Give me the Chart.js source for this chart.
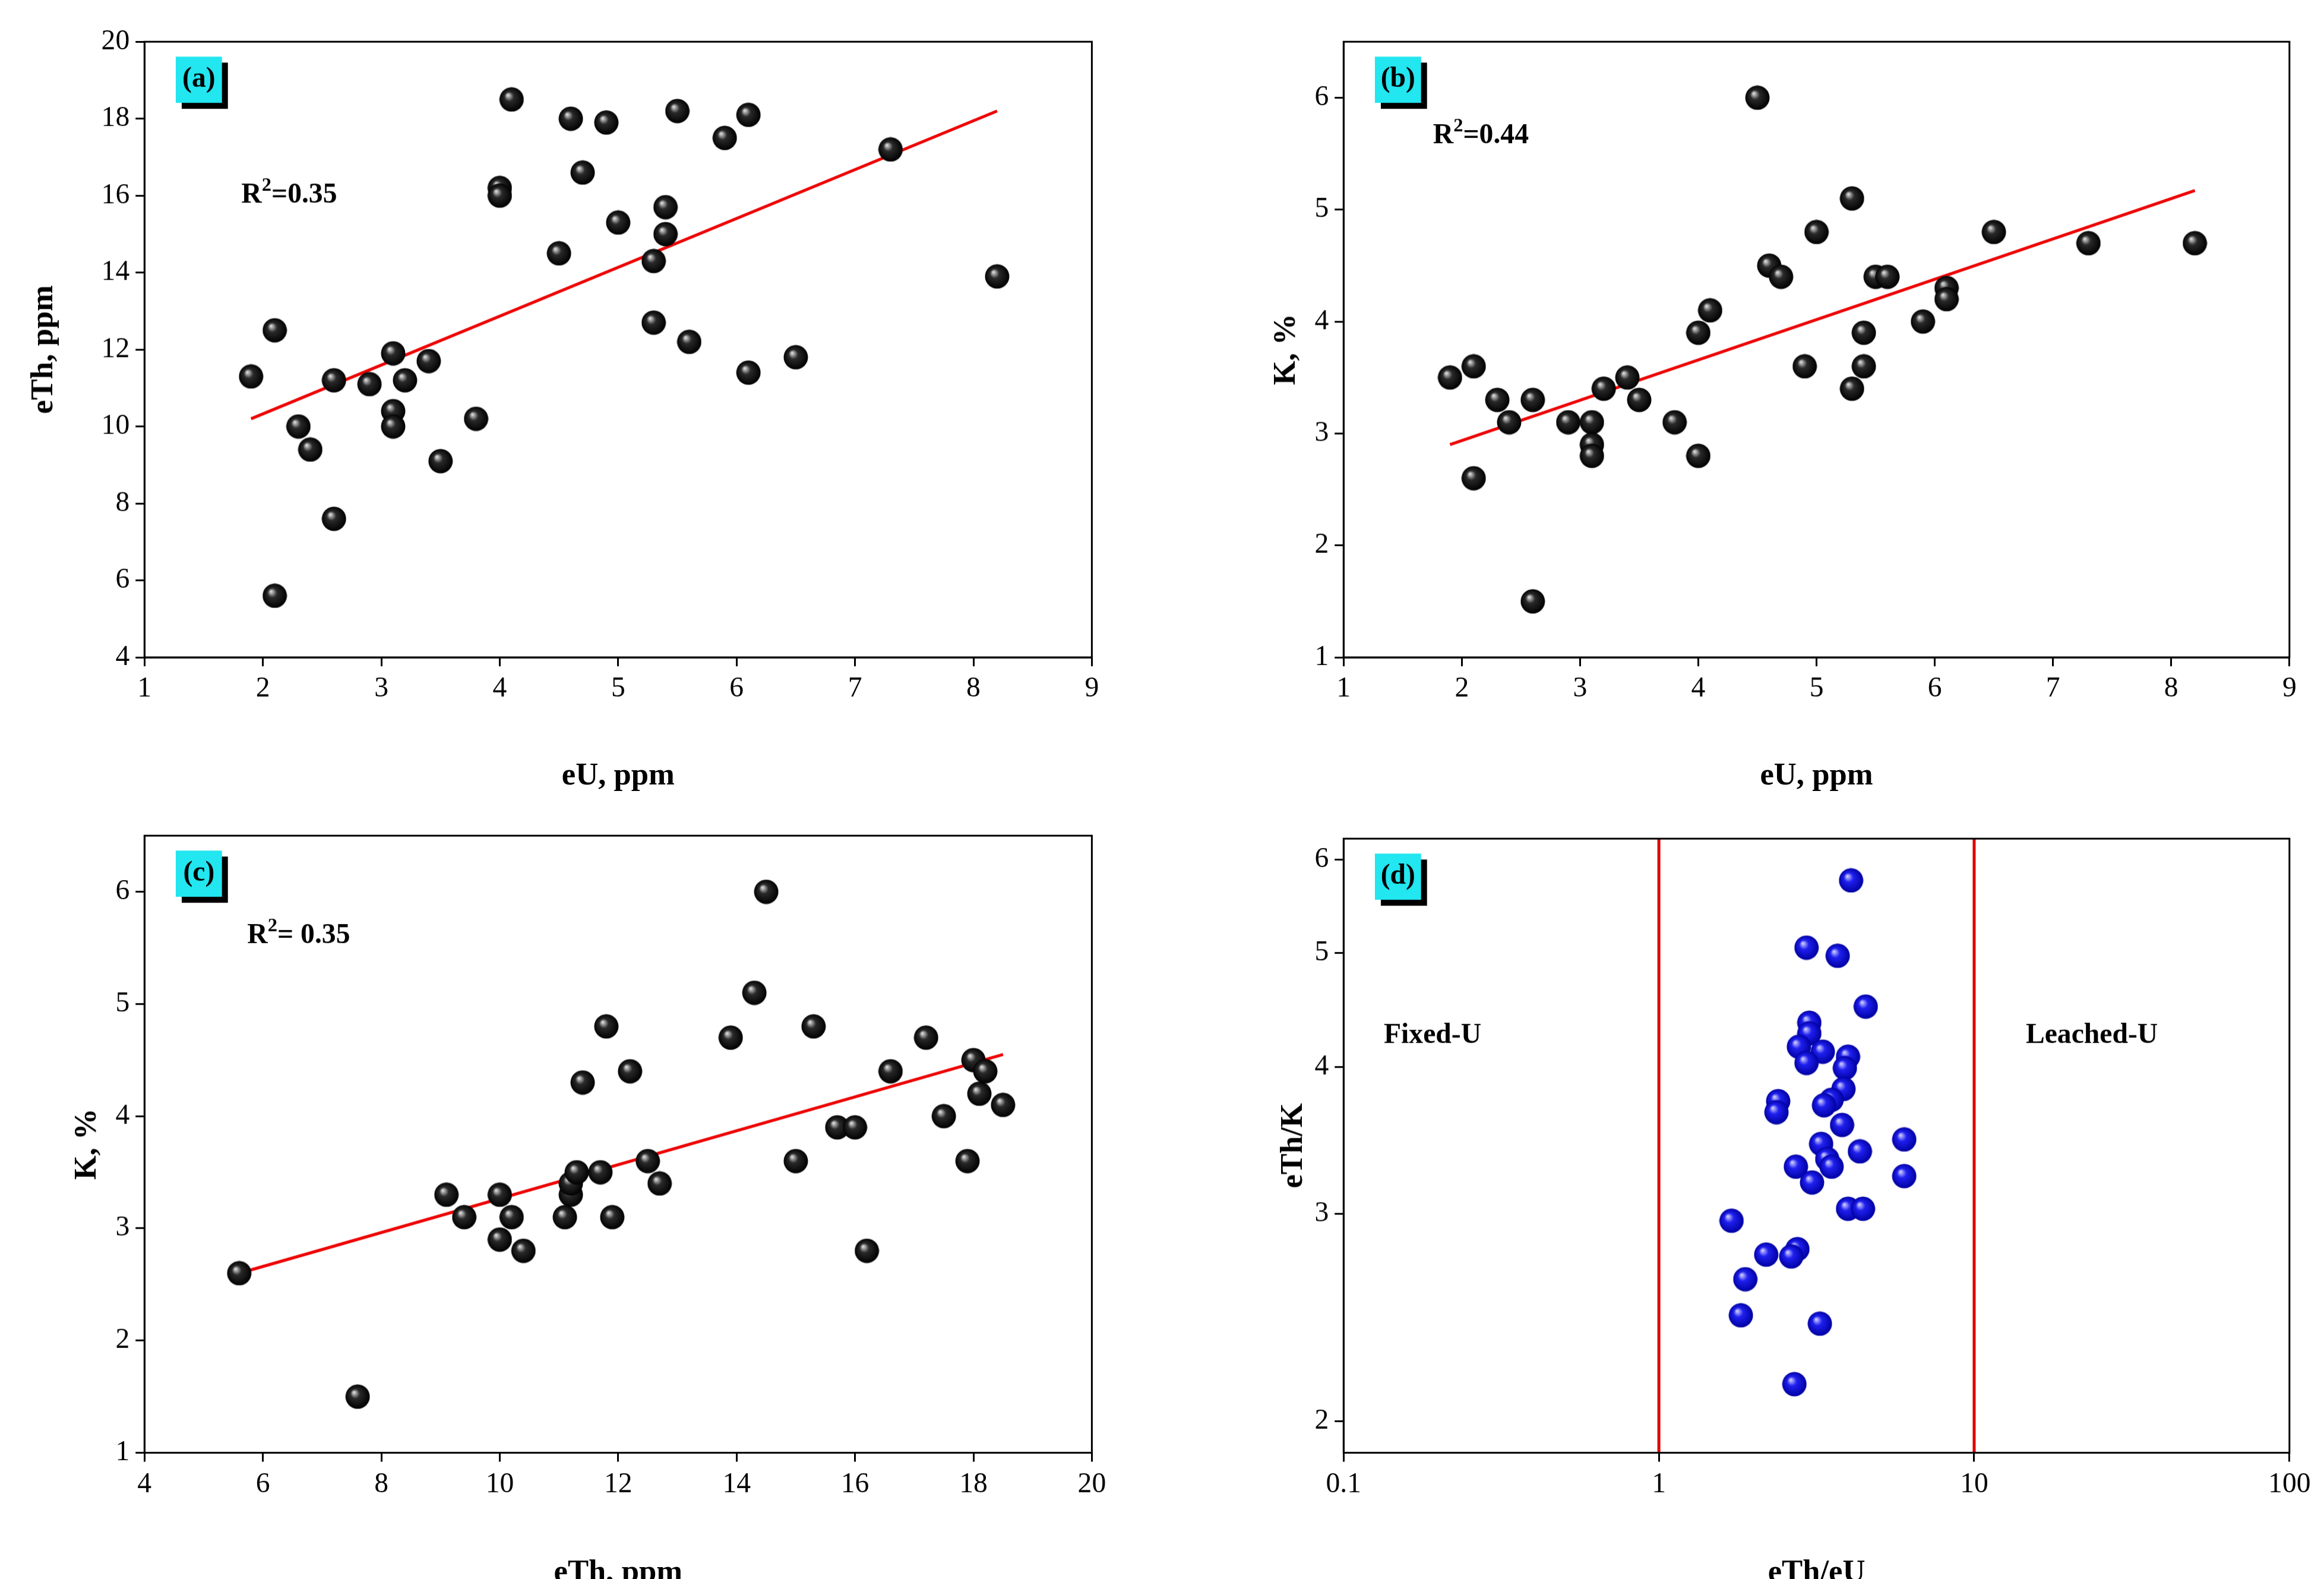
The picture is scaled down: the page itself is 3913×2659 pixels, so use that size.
<!DOCTYPE html>
<html>
<head>
<meta charset="utf-8">
<script src="https://cdn.jsdelivr.net/npm/chart.js@4"></script>
<style>
  body { margin:0; background:#fff; width:3913px; height:2659px; position:relative; overflow:hidden; }
  .box { position:absolute; }
</style>
</head>
<body>
<div class="box" style="left:0px;top:0px"><canvas id="ca"></canvas></div>
<div class="box" id="wb"><canvas id="cb"></canvas></div>
<div class="box" id="wc"><canvas id="cc"></canvas></div>
<div class="box" id="wd"><canvas id="cd"></canvas></div>
<script>
// ######### data
// ###########################################
const eU  = [1.9,2.1,2.1,2.3,2.4,2.6,2.6,2.9,3.1,3.1,3.1,3.2,3.4,3.5,3.8,4.0,4.0,4.1,4.5,4.6,4.7,4.9,5.0,5.3,5.3,5.4,5.4,5.5,5.6,5.9,6.1,6.1,6.5,7.3,8.2];
const eTh = [11.3,12.5,5.6,10.0,9.4,11.2,7.6,11.1,11.9,10.4,10.0,11.2,11.7,9.1,10.2,16.2,16.0,18.5,14.5,18.0,16.6,17.9,15.3,14.3,12.7,15.7,15.0,18.2,12.2,17.5,18.1,11.4,11.8,17.2,13.9];
const kB  = [3.5,3.6,2.6,3.3,3.1,3.3,1.5,3.1,3.1,2.9,2.8,3.4,3.5,3.3,3.1,3.9,2.8,4.1,6.0,4.5,4.4,3.6,4.8,5.1,3.4,3.9,3.6,4.4,4.4,4.0,4.3,4.2,4.8,4.7,4.7];
const eThC = [5.6,7.6,9.1,9.4,10.0,10.0,10.2,10.4,11.1,11.2,11.2,11.3,11.4,11.7,11.8,11.9,12.2,12.5,12.7,13.9,14.3,14.5,15.0,15.3,15.7,16.0,16.2,16.6,17.2,17.5,17.9,18.0,18.1,18.2,18.5];
const kC   = [2.6,1.5,3.3,3.1,3.3,2.9,3.1,2.8,3.1,3.3,3.4,3.5,4.3,3.5,4.8,3.1,4.4,3.6,3.4,4.7,5.1,6.0,3.6,4.8,3.9,3.9,2.8,4.4,4.7,4.0,3.6,4.5,4.2,4.4,4.1];
const ratioThU = [4.07,2.94,3.69,4.53,3.0,3.0,2.78,3.31,3.98,2.94,3.89,3.85,3.53,3.34,2.39,2.36,3.81,6.0,3.27,4.34,3.42,3.53,2.72,3.06,6.0,3.98,4.44,1.70,2.75,2.19,2.63,1.88,1.82,3.24,2.69];
const ratioThK = [5.76,5.05,4.97,4.50,4.36,4.27,4.16,4.12,4.08,4.03,3.99,3.83,3.75,3.71,3.74,3.66,3.57,3.47,3.44,3.39,3.34,3.29,3.29,3.19,3.23,3.03,3.03,2.96,2.80,2.77,2.76,2.64,2.46,2.42,2.15];
const fitA = [[1.9,10.2],[8.2,18.2]];
const fitB = [[1.9,2.9],[8.2,5.17]];
const fitC = [[5.6,2.6],[18.5,4.55]];
const ticksK = [1,2,3,4,5,6];
const ticksD_x = [0.1,1,10,100];
const ticksD_y = [2,3,4,5,6];
const dividers = [1,10];

const S = 2.508;
const FONT = "'Liberation Serif','Times New Roman',serif";

function sphere(c1, c2, c3) {
    const r = 21, cv = document.createElement('canvas');
    cv.width = cv.height = 2*r;
    const g = cv.getContext('2d');
    const gr = g.createRadialGradient(r*0.7, r*0.65, 1, r, r, r);
    gr.addColorStop(0, c1); gr.addColorStop(0.35, c2); gr.addColorStop(1, c3);
    g.fillStyle = gr; g.beginPath(); g.arc(r, r, r-0.5, 0, Math.PI*2); g.fill();
    return cv;
}
const blackBall = sphere('#d8d8d8', '#2a2a2a', '#000');
const blueBall  = sphere('#c8c8ff', '#2020f0', '#0000a0');

function pts(xs, ys) { return xs.map((x, i) => ({x: x, y: ys[i]})); }

// ######### decoration plugin
// ###########################################
const deco = {
    id: 'deco',
    afterDraw(chart, args, o) {
        const c = chart.ctx, a = chart.chartArea;
        c.save();
        c.strokeStyle = '#000'; c.lineWidth = 3;
        c.strokeRect(a.left, a.top, a.right - a.left, a.bottom - a.top);
        // tag box
        const bx = a.left + 21*S, by = a.top + 10*S, bs = 31*S;
        c.fillStyle = '#000'; c.fillRect(bx + 4*S, by + 4*S, bs, bs);
        c.fillStyle = '#22e6f0'; c.fillRect(bx, by, bs, bs);
        c.fillStyle = '#000'; c.font = 'bold ' + (19*S) + 'px ' + FONT;
        c.textAlign = 'center'; c.textBaseline = 'middle';
        c.fillText(o.tag, bx + bs/2, by + bs/2);
        c.textAlign = 'left'; c.textBaseline = 'alphabetic';
        if (o.r2) {
            let x = a.left + o.r2.x*S, y = a.top + o.r2.y*S;
            c.font = 'bold ' + (19*S) + 'px ' + FONT;
            c.fillText('R', x, y); x += c.measureText('R').width;
            c.font = 'bold ' + (13*S) + 'px ' + FONT;
            c.fillText('2', x, y - 8*S); x += c.measureText('2').width;
            c.font = 'bold ' + (19*S) + 'px ' + FONT;
            c.fillText(o.r2.text, x, y);
        }
        if (o.texts) {
            c.font = 'bold ' + (19*S) + 'px ' + FONT;
            o.texts.forEach(t => c.fillText(t.s, a.left + t.x*S, a.top + t.y*S));
        }
        c.restore();
    },
    beforeDatasetsDraw(chart, args, o) {
        if (!o.vlines) return;
        const c = chart.ctx, a = chart.chartArea, xs = chart.scales.x;
        c.save(); c.strokeStyle = '#e00000'; c.lineWidth = 2*S;
        o.vlines.forEach(v => {
            const px = xs.getPixelForValue(v);
            c.beginPath(); c.moveTo(px, a.top); c.lineTo(px, a.bottom); c.stroke();
        });
        c.restore();
    }
};

function axis(min, max, step, title, isY, w) {
    return {
        min: min, max: max,
        ticks: { stepSize: step, color: '#000', font: { family: FONT, size: 19*S }, padding: 4*S, maxRotation: 0 },
        grid: { drawOnChartArea: false, drawTicks: true, tickLength: 6*S, color: '#000', lineWidth: 3 },
        border: { color: '#000', width: 3 },
        title: { display: true, text: title, color: '#000', font: { family: FONT, size: 21*S, weight: 'bold' }, padding: isY ? 4*S : { top: 14*S } },
        afterFit(s) { if (isY) s.width = w*S; else s.height = w*S; }
    };
}

function fixedTicks(ax, list) {
    ax.afterBuildTicks = s => { s.ticks = list.map(v => ({ value: v })); };
    ax.ticks.callback = v => String(v);
    return ax;
}

function place(id, wrap, left, top, width, height) {
    const el = wrap ? document.getElementById(wrap) : null;
    if (el) { el.style.left = (left*S) + 'px'; el.style.top = (top*S) + 'px'; }
    const cv = document.getElementById(id);
    cv.parentNode.style.width = (width*S) + 'px';
    cv.parentNode.style.height = (height*S) + 'px';
    return cv;
}

function scatterChart(cv, data, fit, sx, sy, pad, plug) {
    return new Chart(cv, {
        type: 'scatter',
        data: { datasets: [
            { data: fit.map(p => ({x: p[0], y: p[1]})), showLine: true, borderColor: '#ee0000', borderWidth: 2*S, pointRadius: 0, order: 2 },
            { data: data, pointStyle: blackBall, order: 1 }
        ]},
        options: {
            responsive: true, maintainAspectRatio: false, animation: false,
            layout: { padding: pad },
            plugins: { legend: { display: false }, tooltip: { enabled: false }, deco: plug },
            scales: { x: sx, y: sy }
        },
        plugins: [deco]
    });
}

// panel (a)
const cvA = place('ca', null, 0, 0, 770, 535);
scatterChart(cvA, pts(eU, eTh), fitA,
    axis(1, 9, 1, 'eU, ppm', false, 94), axis(4, 20, 2, 'eTh, ppm', true, 84),
    { top: 28*S, right: 37*S, left: 13*S }, { tag: '(a)', r2: { x: 65, y: 108, text: '=0.35' } });

// panel (b)
const cvB = place('cb', 'wb', 805, 0, 755, 535);
scatterChart(cvB, pts(eU, kB), fitB,
    axis(1, 9, 1, 'eU, ppm', false, 94), fixedTicks(axis(1, 6.5, 1, 'K, %', true, 55), ticksK),
    { top: 28*S, right: 23*S, left: 42*S }, { tag: '(b)', r2: { x: 60, y: 68, text: '=0.44' } });

// panel (c)
const cvC = place('cc', 'wc', 0, 535, 770, 535);
scatterChart(cvC, pts(eThC, kC), fitC,
    axis(4, 20, 2, 'eTh, ppm', false, 95), fixedTicks(axis(1, 6.5, 1, 'K, %', true, 55), ticksK),
    { top: 26*S, right: 37*S, left: 42*S }, { tag: '(c)', r2: { x: 69, y: 72, text: '= 0.35' } });

// panel (d)
const cvD = place('cd', 'wd', 805, 535, 755, 535);
const ax = fixedTicks(axis(0.1, 100, 1, 'eTh/eU', false, 95), ticksD_x);
ax.type = 'logarithmic';
const ay = fixedTicks(axis(1.88, 6.25, 1, 'eTh/K', true, 50), ticksD_y);
ay.type = 'logarithmic';
new Chart(cvD, {
    type: 'scatter',
    data: { datasets: [{ data: pts(ratioThU, ratioThK), pointStyle: blueBall }] },
    options: {
        responsive: true, maintainAspectRatio: false, animation: false,
        layout: { padding: { top: 28*S, right: 23*S, left: 47*S } },
        plugins: { legend: { display: false }, tooltip: { enabled: false },
            deco: { tag: '(d)', vlines: dividers, texts: [ { s: 'Fixed-U', x: 27, y: 137 }, { s: 'Leached-U', x: 458, y: 137 } ] } },
        scales: { x: ax, y: ay }
    },
    plugins: [deco]
});
</script>
</body>
</html>
